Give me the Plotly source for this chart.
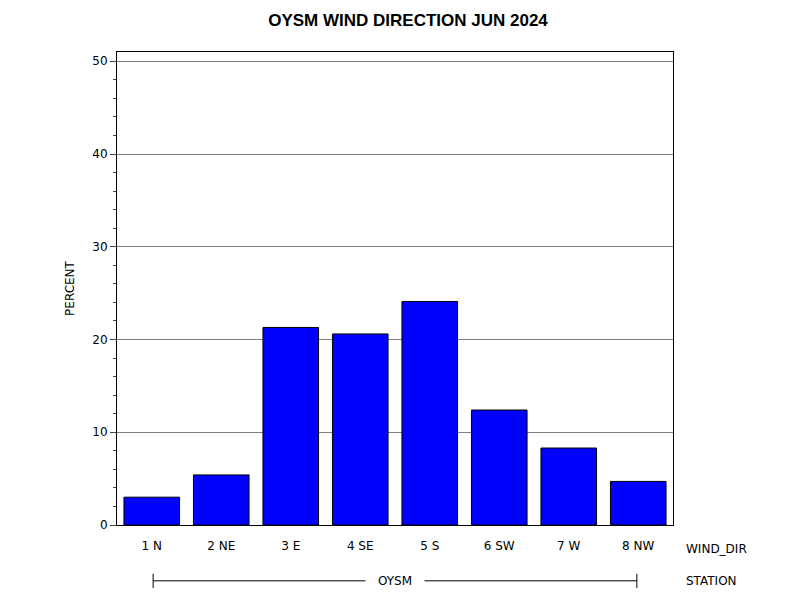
import plotly.graph_objects as go

categories = ["1 N", "2 NE", "3 E", "4 SE", "5 S", "6 SW", "7 W", "8 NW"]
percent = [3.0, 5.4, 21.3, 20.6, 24.1, 12.4, 8.3, 4.7]
station = "OYSM"

fig = go.Figure(go.Bar(x=categories, y=percent, width=0.8,
                       marker=dict(color="#0000ff", line=dict(color="black", width=1))))
fig.update_layout(
    width=800, height=600, plot_bgcolor="white", paper_bgcolor="white",
    margin=dict(l=109, r=135, t=44, b=83),
    font=dict(family="DejaVu Sans", size=12, color="black"),
    title=dict(text="<b>OYSM WIND DIRECTION JUN 2024</b>", x=0.5, xanchor="center",
               y=0.99, yanchor="top", font=dict(size=17, family="Liberation Sans")),
    showlegend=False,
    xaxis=dict(showline=True, linecolor="black", mirror=True, ticks="", tickfont=dict(size=12),
               ticklabelstandoff=10),
    yaxis=dict(title=dict(text="PERCENT", font=dict(size=12)), range=[0, 51], dtick=10,
               showline=True, linecolor="black", mirror=True, ticks="outside", ticklen=6,
               showgrid=True, gridcolor="#808080", zeroline=False,
               minor=dict(dtick=2, ticks="outside", ticklen=3, showgrid=False)),
)
fig.add_annotation(text="WIND_DIR", xref="paper", yref="paper", x=1.02, y=-0.05,
                   xanchor="left", yanchor="middle", showarrow=False, font=dict(size=12))
fig.add_annotation(text="STATION", xref="paper", yref="paper", x=1.02, y=-0.118,
                   xanchor="left", yanchor="middle", showarrow=False, font=dict(size=12))
fig.add_annotation(text=station, xref="paper", yref="paper", x=0.5, y=-0.118,
                   xanchor="center", yanchor="middle", showarrow=False, font=dict(size=12),
                   bgcolor="white", borderpad=12)
fig.add_shape(type="line", xref="paper", yref="paper", x0=0.065, x1=0.935, y0=-0.118, y1=-0.118,
              line=dict(color="black", width=1), layer="below")
for xe in (0.065, 0.935):
    fig.add_shape(type="line", xref="paper", yref="paper", x0=xe, x1=xe, y0=-0.103, y1=-0.133,
                  line=dict(color="black", width=1))
fig.write_html("out.html")
